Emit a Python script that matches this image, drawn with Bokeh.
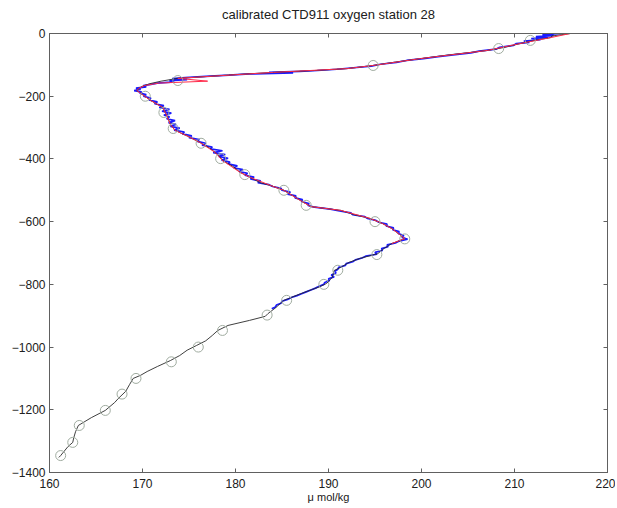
from bokeh.plotting import figure
from bokeh.models import LinearAxis, FixedTicker, Range1d
from bokeh.embed import file_html
from bokeh.resources import INLINE

title_text = "calibrated CTD911 oxygen station 28"
x_label = "\u03bc mol/kg"
x_ticks = [160, 170, 180, 190, 200, 210, 220]
y_ticks = [0, -200, -400, -600, -800, -1000, -1200, -1400]

# full calibrated profile (black)
prof_depth = [0, -8, -13, -20, -32, -45, -54, -68, -80, -92, -102, -112, -118, -124, -132, -138,
              -143, -152, -160, -168, -175, -182, -195, -214, -236, -255, -275, -290, -309, -328,
              -348, -365, -379, -392, -405, -425, -443, -459, -475, -485, -500, -518, -533, -552,
              -564, -578, -590, -606, -622, -640, -654, -660, -670, -685, -702, -717, -730, -746,
              -756, -778, -797, -807, -830, -851, -875, -893, -902, -915, -931, -947, -963, -980,
              -995, -1010, -1027, -1043, -1062, -1078, -1090, -1100, -1120, -1141, -1164, -1177,
              -1202, -1225, -1250, -1270, -1290, -1304, -1317, -1335, -1346, -1352]
prof_ox = [216.0, 214.0, 213.9, 212.5, 210.6, 208.8, 207.1, 203.0, 199.9, 197.0, 194.8, 192.0, 188.5,
           184.1, 179.5, 176.5, 173.8, 172.0, 170.8, 170.0, 169.6, 169.4, 170.0, 170.9, 172.2, 172.5,
           172.8, 173.0, 173.5, 174.9, 176.2, 177.2, 177.8, 178.3, 178.6, 179.8, 180.5, 181.6, 182.6,
           183.8, 185.2, 186.2, 187.0, 188.1, 191.3, 192.8, 194.5, 195.8, 196.8, 197.6, 198.2, 197.7,
           196.8, 196.0, 195.3, 193.4, 192.2, 191.3, 190.6, 190.4, 189.8, 189.1, 187.0, 185.2, 184.3,
           183.5, 183.2, 181.5, 179.2, 178.1, 177.5, 176.8, 175.8, 174.8, 174.0, 173.0, 171.6, 170.5,
           169.8, 169.0, 168.6, 168.2, 167.4, 167.0, 166.0, 164.5, 163.1, 162.8, 162.6, 162.5, 162.0,
           161.5, 161.2, 161.0]

# raw CTD trace (blue)
blue_depth = [0, -4, -7, -10, -13, -16, -20, -24, -28, -32, -38, -44, -50, -56, -62, -68, -74, -80,
              -86, -92, -98, -104, -110, -114, -118, -121, -124, -126, -129, -133, -137, -141, -144,
              -147, -150, -154, -158, -162, -166, -170, -174, -178, -182, -186, -190, -195, -200,
              -206, -212, -218, -224, -230, -236, -242, -248, -254, -260, -266, -272, -278, -284,
              -290, -296, -302, -308, -314, -320, -326, -332, -338, -344, -350, -356, -362, -368,
              -374, -380, -386, -392, -398, -404, -410, -416, -422, -428, -434, -440, -446, -452,
              -458, -464, -470, -476, -482, -488, -494, -500, -506, -512, -518, -524, -530, -536,
              -542, -548, -554, -560, -566, -572, -578, -584, -590, -596, -602, -608, -614, -620,
              -626, -632, -638, -644, -650, -656, -662, -668, -674, -680, -686, -692, -698, -704,
              -710, -716, -722, -728, -734, -740, -746, -752, -758, -764, -770, -776, -782, -788,
              -794, -800, -806, -812, -818, -824, -830, -836, -842, -848, -854, -860, -866, -872, -878]
blue_ox = [215.0, 213.0, 214.2, 212.3, 213.6, 211.8, 212.8, 211.0, 211.6, 210.2, 209.9, 208.4, 208.0,
           206.2, 205.3, 203.4, 201.8, 200.2, 198.4, 197.3, 195.6, 194.6, 192.4, 190.9, 188.8, 186.9,
           183.6, 186.2, 181.5, 179.3, 176.8, 174.6, 173.2, 174.8, 172.9, 173.4, 171.6, 170.9, 170.1,
           170.4, 169.3, 169.8, 169.1, 169.9, 169.7, 170.4, 170.1, 170.9, 170.7, 171.6, 171.3, 172.3,
           171.8, 172.9, 172.1, 173.1, 172.3, 172.9, 172.6, 173.5, 172.8, 173.6, 173.0, 174.0, 173.4,
           174.5, 174.3, 175.3, 175.0, 176.1, 175.9, 176.8, 176.4, 177.5, 177.3, 178.6, 177.6, 178.9,
           178.2, 179.2, 178.5, 179.4, 179.2, 180.2, 179.8, 180.8, 180.4, 181.3, 181.0, 182.0, 181.6,
           182.7, 182.4, 183.6, 184.0, 184.9, 185.0, 185.9, 185.6, 186.5, 186.4, 187.2, 187.1, 187.9,
           187.8, 188.5, 190.2, 191.2, 192.4, 192.6, 193.9, 194.2, 195.1, 195.4, 196.3, 196.2, 197.0,
           196.9, 197.6, 197.5, 198.1, 197.9, 198.5, 197.6, 197.2, 196.3, 196.4, 195.7, 195.8, 195.0,
           195.2, 194.0, 193.6, 192.9, 192.6, 191.9, 191.8, 191.1, 191.0, 190.7, 190.8, 190.3, 190.6,
           190.0, 190.1, 189.6, 189.5, 189.0, 188.6, 188.1, 187.6, 187.1, 186.6, 186.0, 185.6, 185.0,
           184.9, 184.4, 184.3, 183.9]

# smoothed upper trace (red)
red_depth = [0, -13, -32, -54, -80, -102, -112, -124, -143, -152, -158, -166, -175, -182, -195, -214,
             -236, -255, -290, -309, -328, -348, -379, -405, -443, -459, -485, -500, -533, -552,
             -564, -590, -606, -622, -640, -654, -670]
red_ox = [216.0, 213.9, 210.6, 207.1, 199.9, 194.8, 192.0, 184.1, 173.8, 177.0, 171.8, 170.2, 169.6,
          169.4, 170.0, 170.9, 172.2, 172.5, 173.0, 173.5, 174.9, 176.2, 177.8, 178.6, 180.5, 181.6,
          183.8, 185.2, 187.0, 188.1, 191.3, 194.5, 195.8, 196.8, 197.6, 198.2, 196.8]

# bottle samples (circles)
bottle_depth = [-22, -48, -102, -150, -200, -252, -303, -350, -399, -450, -500, -548, -600, -655,
                -705, -755, -800, -851, -898, -947, -1000, -1047, -1100, -1150, -1202, -1250,
                -1304, -1346]
bottle_ox = [211.7, 208.3, 194.8, 173.8, 170.3, 172.3, 173.3, 176.3, 178.4, 181.0, 185.2, 187.6,
             195.0, 198.2, 195.2, 191.0, 189.5, 185.5, 183.4, 178.6, 176.0, 173.1, 169.3, 167.8,
             166.0, 163.2, 162.5, 161.2]

FONT = "Liberation Sans"
AX = "#606060"
TXT = "#202020"

p = figure(output_backend="svg", toolbar_location=None,
           x_range=Range1d(160, 220), y_range=Range1d(-1400, 0),
           frame_width=558, frame_height=439,
           min_border_left=49, min_border_right=8, min_border_top=33, min_border_bottom=30,
           x_axis_label=x_label)
p.grid.visible = False
p.outline_line_color = AX
p.background_fill_color = "white"
p.border_fill_color = "white"

for ax in (p.xaxis[0], p.yaxis[0]):
    ax.major_tick_in = 4
    ax.major_tick_out = 0
    ax.minor_tick_line_color = None
    ax.axis_line_color = AX
    ax.major_tick_line_color = AX
    ax.major_label_text_font = FONT
    ax.major_label_text_font_size = "12px"
    ax.major_label_text_color = TXT
p.xaxis[0].major_label_standoff = 6
p.yaxis[0].major_label_standoff = 4
p.xaxis[0].ticker = FixedTicker(ticks=x_ticks)
p.yaxis[0].ticker = FixedTicker(ticks=y_ticks)
p.xaxis[0].axis_label_text_font = FONT
p.xaxis[0].axis_label_text_font_size = "11px"
p.xaxis[0].axis_label_text_font_style = "normal"
p.xaxis[0].axis_label_text_color = TXT
p.xaxis[0].axis_label_standoff = 0

# top axis carries the chart title as its label
top = LinearAxis(ticker=FixedTicker(ticks=x_ticks),
                 major_label_overrides={t: "" for t in x_ticks},
                 major_tick_in=4, major_tick_out=0, minor_tick_line_color=None,
                 axis_line_color=AX, major_tick_line_color=AX, major_label_standoff=0,
                 axis_label=title_text, axis_label_standoff=12,
                 axis_label_text_font=FONT, axis_label_text_font_size="13px",
                 axis_label_text_font_style="normal", axis_label_text_color=TXT)
right = LinearAxis(ticker=FixedTicker(ticks=y_ticks),
                   major_label_overrides={t: "" for t in y_ticks},
                   major_tick_in=4, major_tick_out=0, minor_tick_line_color=None,
                   axis_line_color=AX, major_tick_line_color=AX, major_label_standoff=0)
p.add_layout(top, "above")
p.add_layout(right, "right")

p.line(blue_ox, blue_depth, line_color="#1a1aff", line_width=1.7)
p.line(prof_ox, prof_depth, line_color="#2a2a2a", line_width=0.9)
p.line(red_ox, red_depth, line_color="#ff2a4a", line_width=1)
p.scatter(bottle_ox, bottle_depth, marker="circle", size=10, fill_color=None,
          line_color="#a0aca0", line_width=1)

open("out.html", "w").write(file_html(p, INLINE))
